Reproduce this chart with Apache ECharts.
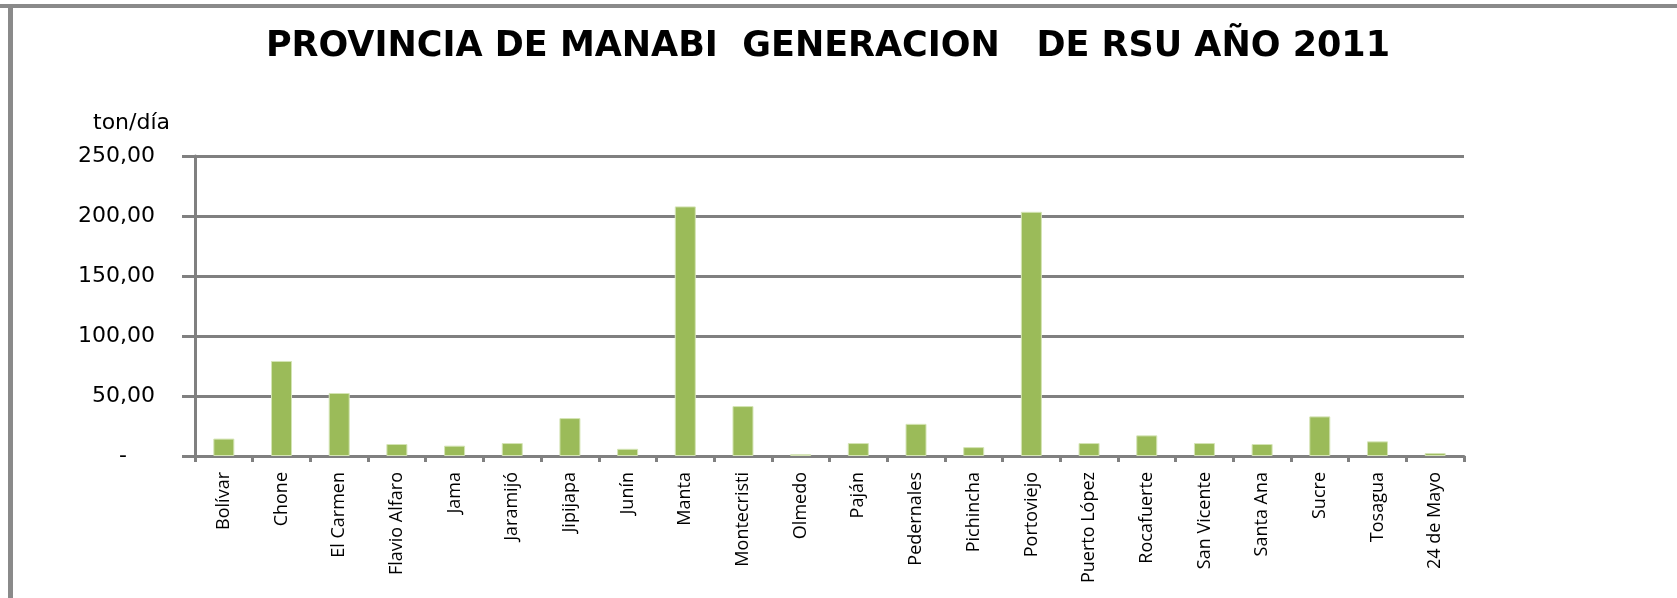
<!DOCTYPE html>
<html>
<head>
<meta charset="utf-8">
<script src="https://cdn.jsdelivr.net/npm/echarts@6/dist/echarts.min.js"></script>
<style>html,body{margin:0;padding:0;background:#fff;}#c{width:1677px;height:598px;}</style>
</head>
<body>
<div id="c"></div>
<script>
const categories = ['Bolívar','Chone','El Carmen','Flavio Alfaro','Jama','Jaramijó','Jipijapa','Junín','Manta','Montecristi','Olmedo','Paján','Pedernales','Pichincha','Portoviejo','Puerto López','Rocafuerte','San Vicente','Santa Ana','Sucre','Tosagua','24 de Mayo'];
const values = [14.5, 79.2, 52.5, 10.0, 8.6, 10.8, 31.6, 6.0, 208.0, 41.6, 1.5, 10.8, 26.8, 7.4, 203.5, 10.8, 17.2, 10.8, 10.0, 33.0, 12.2, 2.4];
const yTicks = {min: 0, max: 250, interval: 50};
const titleText = 'PROVINCIA DE MANABI  GENERACION   DE RSU AÑO 2011';
const yName = 'ton/día';

const chart = echarts.init(document.getElementById('c'));
chart.setOption({
  animation: false,
  backgroundColor: '#ffffff',
  title: {
    text: titleText,
    left: 823, top: 24, textAlign: 'center',
    textStyle: {fontFamily: 'DejaVu Sans', fontWeight: 'bold', fontSize: 35, color: '#000'}
  },
  graphic: [
    {type: 'rect', shape: {x: 0, y: 4, width: 1677, height: 4}, style: {fill: '#8a8a8a'}, silent: true},
    {type: 'rect', shape: {x: 8, y: 4, width: 5, height: 594}, style: {fill: '#8a8a8a'}, silent: true}
  ],
  grid: {left: 195, right: 213, top: 156, bottom: 142, containLabel: false},
  xAxis: {
    type: 'category',
    data: categories,
    boundaryGap: true,
    axisLine: {lineStyle: {color: '#808080', width: 3}},
    axisTick: {show: true, length: 6, alignWithLabel: false, lineStyle: {color: '#808080', width: 3}},
    axisLabel: {rotate: 90, interval: 0, margin: 16, fontFamily: '"Liberation Sans Narrow", "Open Sans", sans-serif', fontSize: 18, color: '#000'}
  },
  yAxis: {
    type: 'value',
    min: yTicks.min, max: yTicks.max, interval: yTicks.interval,
    name: yName, nameLocation: 'end', nameGap: 22,
    nameTextStyle: {fontFamily: 'DejaVu Sans', fontSize: 22, color: '#000', align: 'right', padding: [0, 25, 0, 0]},
    axisLine: {show: true, lineStyle: {color: '#808080', width: 3}},
    axisTick: {show: true, length: 13, lineStyle: {color: '#808080', width: 3}},
    splitLine: {show: true, lineStyle: {color: '#808080', width: 3}},
    axisLabel: {
      margin: 40, fontFamily: 'DejaVu Sans', fontSize: 22, color: '#000',
      formatter: function (v) { return v === 0 ? '-    ' : v.toFixed(2).replace('.', ','); }
    }
  },
  series: [{
    type: 'bar',
    data: values,
    barWidth: 21,
    itemStyle: {color: '#9bbb59', borderColor: '#d4e4b4', borderWidth: 1}
  }]
});
</script>
</body>
</html>
